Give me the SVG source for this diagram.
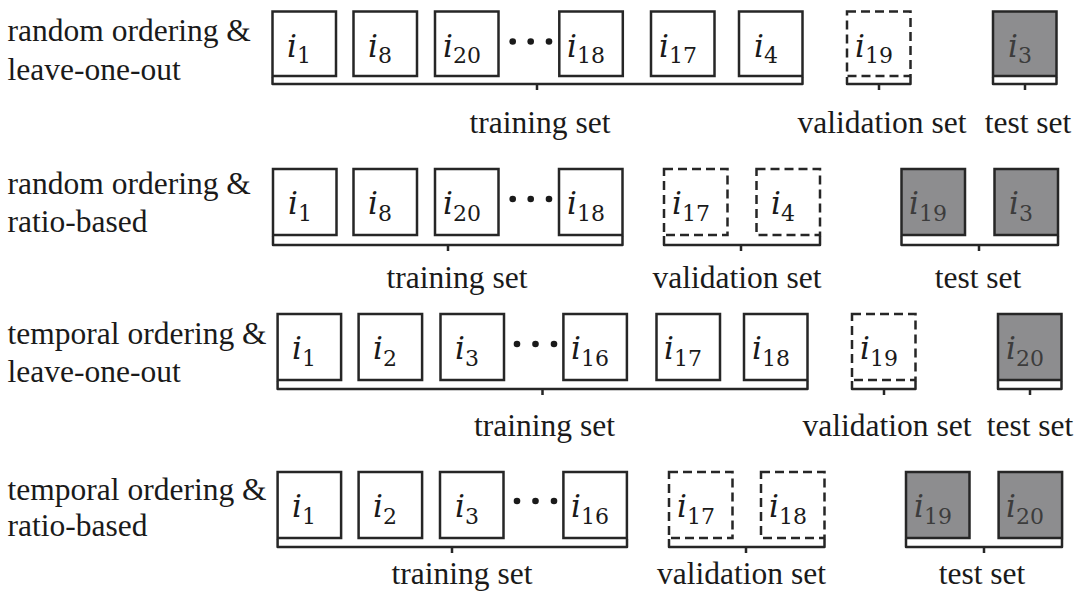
<svg xmlns="http://www.w3.org/2000/svg" width="1080" height="591" viewBox="0 0 1080 591">
<style>
.bg{fill:#ffffff}
.lbl{font-size:31.5px;fill:#1a1a1a}
.set{font-size:31.5px;fill:#1a1a1a;text-anchor:middle}
.box{fill:#ffffff;stroke:#262626;stroke-width:2.5}
.dash{fill:#ffffff;stroke:#262626;stroke-width:2.5;stroke-dasharray:9 5}
.gray{fill:#8d8d8f;stroke:#262626;stroke-width:2.5}
.it{font-style:italic;font-size:31px;fill:#1a1a1a;text-anchor:middle}
.itg{font-style:italic;font-size:31px;fill:#3c3c3c;text-anchor:middle}
.sub{font-style:normal;font-size:22px}
.br{fill:none;stroke:#262626;stroke-width:2.5;stroke-linejoin:round}
.dot{fill:#1a1a1a}
</style>
<rect class="bg" x="0" y="0" width="1080" height="591"/>

<g id="row-labels" font-family="Liberation Serif, Times New Roman, serif">
<text class="lbl" x="7.6" y="41">random ordering &amp;</text>
<text class="lbl" x="7.6" y="80">leave-one-out</text>
<text class="lbl" x="7.6" y="194">random ordering &amp;</text>
<text class="lbl" x="7.6" y="232">ratio-based</text>
<text class="lbl" x="7.6" y="344">temporal ordering &amp;</text>
<text class="lbl" x="7.6" y="382">leave-one-out</text>
<text class="lbl" x="7.6" y="500">temporal ordering &amp;</text>
<text class="lbl" x="7.6" y="536">ratio-based</text>
</g>

<g id="nodes" font-family="DejaVu Serif, serif">
<g id="r1-i1"><rect class="box" x="272.5" y="11.5" width="63.5" height="64.5"/><text class="it" x="299" y="56.5">i<tspan class="sub" dy="6.6">1</tspan></text></g>
<g id="r1-i8"><rect class="box" x="353.5" y="11.5" width="63.5" height="64.5"/><text class="it" x="380" y="56.5">i<tspan class="sub" dy="6.6">8</tspan></text></g>
<g id="r1-i20"><rect class="box" x="435" y="11.5" width="63.5" height="64.5"/><text class="it" x="462" y="56.5">i<tspan class="sub" dy="6.6">20</tspan></text></g>
<g id="r1-dots"><circle class="dot" cx="512.7" cy="41.5" r="3.3"/><circle class="dot" cx="530.7" cy="41.5" r="3.3"/><circle class="dot" cx="549" cy="41.5" r="3.3"/></g>
<g id="r1-i18"><rect class="box" x="559.3" y="11.5" width="63.5" height="64.5"/><text class="it" x="586" y="56.5">i<tspan class="sub" dy="6.6">18</tspan></text></g>
<g id="r1-i17"><rect class="box" x="651" y="11.5" width="63.5" height="64.5"/><text class="it" x="678" y="56.5">i<tspan class="sub" dy="6.6">17</tspan></text></g>
<g id="r1-i4"><rect class="box" x="739" y="11.5" width="63.5" height="64.5"/><text class="it" x="766" y="56.5">i<tspan class="sub" dy="6.6">4</tspan></text></g>
<g id="r1-i19"><rect class="dash" x="847" y="11.5" width="63.5" height="64.5"/><text class="it" x="874" y="56.5">i<tspan class="sub" dy="6.6">19</tspan></text></g>
<g id="r1-i3"><rect class="gray" x="993" y="11.5" width="63.5" height="64.5"/><text class="itg" x="1020" y="56.5">i<tspan class="sub" dy="6.6">3</tspan></text></g>

<g id="r2-i1"><rect class="box" x="273" y="169" width="63.5" height="66"/><text class="it" x="300" y="214">i<tspan class="sub" dy="6.6">1</tspan></text></g>
<g id="r2-i8"><rect class="box" x="353.5" y="169" width="63.5" height="66"/><text class="it" x="380" y="214">i<tspan class="sub" dy="6.6">8</tspan></text></g>
<g id="r2-i20"><rect class="box" x="435" y="169" width="63.5" height="66"/><text class="it" x="462" y="214">i<tspan class="sub" dy="6.6">20</tspan></text></g>
<g id="r2-dots"><circle class="dot" cx="512.7" cy="199" r="3.3"/><circle class="dot" cx="530.7" cy="199" r="3.3"/><circle class="dot" cx="549" cy="199" r="3.3"/></g>
<g id="r2-i18"><rect class="box" x="559" y="169" width="63.5" height="66"/><text class="it" x="586" y="214">i<tspan class="sub" dy="6.6">18</tspan></text></g>
<g id="r2-i17"><rect class="dash" x="664" y="169" width="63.5" height="66"/><text class="it" x="691" y="214">i<tspan class="sub" dy="6.6">17</tspan></text></g>
<g id="r2-i4"><rect class="dash" x="756.5" y="169" width="63.5" height="66"/><text class="it" x="783" y="214">i<tspan class="sub" dy="6.6">4</tspan></text></g>
<g id="r2-i19"><rect class="gray" x="901.5" y="169" width="63.5" height="66"/><text class="itg" x="928" y="214">i<tspan class="sub" dy="6.6">19</tspan></text></g>
<g id="r2-i3"><rect class="gray" x="994.5" y="169" width="63.5" height="66"/><text class="itg" x="1021" y="214">i<tspan class="sub" dy="6.6">3</tspan></text></g>

<g id="r3-i1"><rect class="box" x="277.6" y="314" width="63.5" height="66"/><text class="it" x="304" y="359">i<tspan class="sub" dy="6.6">1</tspan></text></g>
<g id="r3-i2"><rect class="box" x="358.6" y="314" width="63.5" height="66"/><text class="it" x="385" y="359">i<tspan class="sub" dy="6.6">2</tspan></text></g>
<g id="r3-i3"><rect class="box" x="440.5" y="314" width="63.5" height="66"/><text class="it" x="467" y="359">i<tspan class="sub" dy="6.6">3</tspan></text></g>
<g id="r3-dots"><circle class="dot" cx="517" cy="344" r="3.3"/><circle class="dot" cx="535.5" cy="344" r="3.3"/><circle class="dot" cx="554" cy="344" r="3.3"/></g>
<g id="r3-i16"><rect class="box" x="563.4" y="314" width="63.5" height="66"/><text class="it" x="590" y="359">i<tspan class="sub" dy="6.6">16</tspan></text></g>
<g id="r3-i17"><rect class="box" x="656.5" y="314" width="63.5" height="66"/><text class="it" x="683" y="359">i<tspan class="sub" dy="6.6">17</tspan></text></g>
<g id="r3-i18"><rect class="box" x="744" y="314" width="63.5" height="66"/><text class="it" x="771" y="359">i<tspan class="sub" dy="6.6">18</tspan></text></g>
<g id="r3-i19"><rect class="dash" x="852" y="314" width="63.5" height="66"/><text class="it" x="879" y="359">i<tspan class="sub" dy="6.6">19</tspan></text></g>
<g id="r3-i20"><rect class="gray" x="998" y="314" width="63.5" height="66"/><text class="itg" x="1025" y="359">i<tspan class="sub" dy="6.6">20</tspan></text></g>

<g id="r4-i1"><rect class="box" x="277.6" y="472" width="63.5" height="66"/><text class="it" x="304" y="517">i<tspan class="sub" dy="6.6">1</tspan></text></g>
<g id="r4-i2"><rect class="box" x="358.6" y="472" width="63.5" height="66"/><text class="it" x="385" y="517">i<tspan class="sub" dy="6.6">2</tspan></text></g>
<g id="r4-i3"><rect class="box" x="440" y="472" width="63.5" height="66"/><text class="it" x="467" y="517">i<tspan class="sub" dy="6.6">3</tspan></text></g>
<g id="r4-dots"><circle class="dot" cx="517" cy="501" r="3.3"/><circle class="dot" cx="535.5" cy="501" r="3.3"/><circle class="dot" cx="554" cy="501" r="3.3"/></g>
<g id="r4-i16"><rect class="box" x="563.4" y="472" width="63.5" height="66"/><text class="it" x="590" y="517">i<tspan class="sub" dy="6.6">16</tspan></text></g>
<g id="r4-i17"><rect class="dash" x="669" y="472" width="63.5" height="66"/><text class="it" x="696" y="517">i<tspan class="sub" dy="6.6">17</tspan></text></g>
<g id="r4-i18"><rect class="dash" x="761" y="472" width="63.5" height="66"/><text class="it" x="788" y="517">i<tspan class="sub" dy="6.6">18</tspan></text></g>
<g id="r4-i19"><rect class="gray" x="906" y="472" width="63.5" height="66"/><text class="itg" x="933" y="517">i<tspan class="sub" dy="6.6">19</tspan></text></g>
<g id="r4-i20"><rect class="gray" x="998.6" y="472" width="63.5" height="66"/><text class="itg" x="1025" y="517">i<tspan class="sub" dy="6.6">20</tspan></text></g>
</g>

<g id="connectors">
<path class="br" d="M272.5 77 V84 H802.5 V77 M537 84 V90"/>
<path class="br" d="M847 77 V84 H910.5 V77 M879 84 V90"/>
<path class="br" d="M993 77 V84 H1056.5 V77 M1025 84 V90"/>
<path class="br" d="M273 236 V245 H622.5 V236 M448 245 V251"/>
<path class="br" d="M664 236 V245 H820 V236 M741 245 V251"/>
<path class="br" d="M901.5 236 V245 H1058 V236 M979 245 V251"/>
<path class="br" d="M277.6 381 V389 H807.5 V381 M542.5 389 V395"/>
<path class="br" d="M852 381 V389 H915.5 V381 M884 389 V395"/>
<path class="br" d="M998 381 V389 H1061.5 V381 M1030 389 V395"/>
<path class="br" d="M277.6 539 V547 H627 V539 M452 547 V553"/>
<path class="br" d="M669 539 V547 H824.5 V539 M746 547 V553"/>
<path class="br" d="M906 539 V547 H1062 V539 M984 547 V553"/>
</g>

<g id="set-labels" font-family="Liberation Serif, Times New Roman, serif">
<text class="set" x="540" y="133">training set</text>
<text class="set" x="882" y="133">validation set</text>
<text class="set" x="1028" y="133">test set</text>
<text class="set" x="457" y="288">training set</text>
<text class="set" x="737" y="288">validation set</text>
<text class="set" x="978" y="288">test set</text>
<text class="set" x="544.5" y="436">training set</text>
<text class="set" x="887" y="436">validation set</text>
<text class="set" x="1030" y="436">test set</text>
<text class="set" x="462" y="584">training set</text>
<text class="set" x="741.5" y="584">validation set</text>
<text class="set" x="982" y="584">test set</text>
</g>
</svg>
